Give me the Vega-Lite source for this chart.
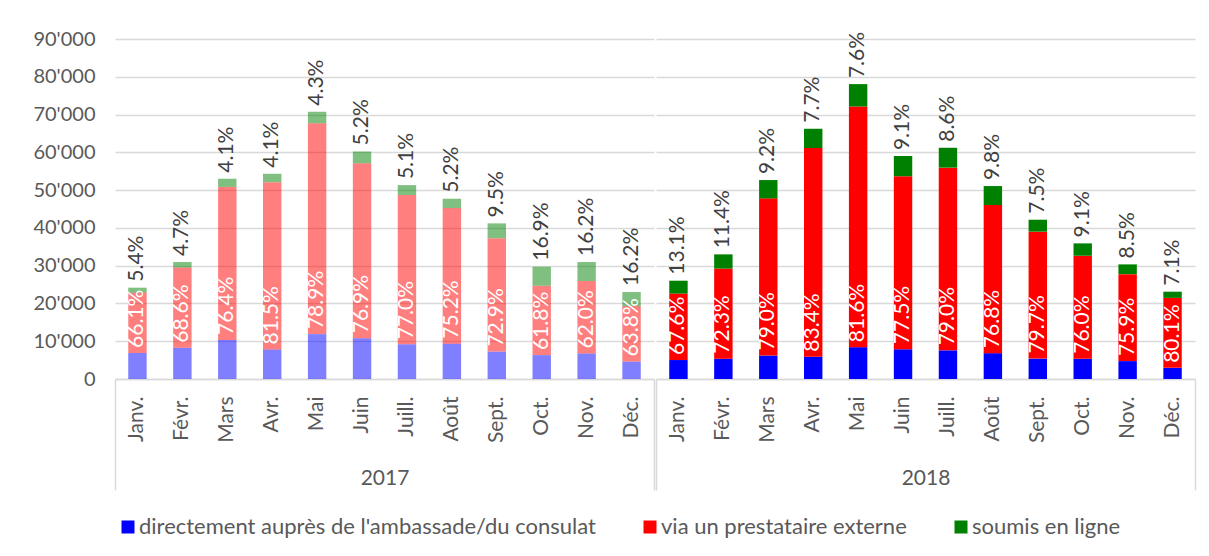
{
  "$schema": "https://vega.github.io/schema/vega-lite/v6.json",
  "padding": {"left": 32, "top": 29, "right": 10, "bottom": 5},
  "config": {
    "font": "Lato",
    "view": {"stroke": null},
    "axis": {"labelFont": "Lato", "titleFont": "Lato", "labelColor": "#595959", "titleColor": "#595959", "labelFontSize": 20, "titleFontSize": 20, "titleFontWeight": "normal", "gridColor": "#d9d9d9", "gridWidth": 1.5, "domainColor": "#d9d9d9", "domainWidth": 1.5, "tickColor": "#d9d9d9"},
    "text": {"font": "Lato"}
  },
  "data": {"values": [
    {"annee": 2017, "mois": "Janv.", "serie": "directement auprès de l'ambassade/du consulat", "ordre": 1, "valeur": 6889},
    {"annee": 2017, "mois": "Janv.", "serie": "via un prestataire externe", "ordre": 2, "valeur": 15976, "pct": 0.661},
    {"annee": 2017, "mois": "Janv.", "serie": "soumis en ligne", "ordre": 3, "valeur": 1305, "pct": 0.054},
    {"annee": 2017, "mois": "Févr.", "serie": "directement auprès de l'ambassade/du consulat", "ordre": 1, "valeur": 8266},
    {"annee": 2017, "mois": "Févr.", "serie": "via un prestataire externe", "ordre": 2, "valeur": 21239, "pct": 0.686},
    {"annee": 2017, "mois": "Févr.", "serie": "soumis en ligne", "ordre": 3, "valeur": 1455, "pct": 0.047},
    {"annee": 2017, "mois": "Mars", "serie": "directement auprès de l'ambassade/du consulat", "ordre": 1, "valeur": 10337},
    {"annee": 2017, "mois": "Mars", "serie": "via un prestataire externe", "ordre": 2, "valeur": 40500, "pct": 0.764},
    {"annee": 2017, "mois": "Mars", "serie": "soumis en ligne", "ordre": 3, "valeur": 2173, "pct": 0.041},
    {"annee": 2017, "mois": "Avr.", "serie": "directement auprès de l'ambassade/du consulat", "ordre": 1, "valeur": 7823},
    {"annee": 2017, "mois": "Avr.", "serie": "via un prestataire externe", "ordre": 2, "valeur": 44279, "pct": 0.815},
    {"annee": 2017, "mois": "Avr.", "serie": "soumis en ligne", "ordre": 3, "valeur": 2228, "pct": 0.041},
    {"annee": 2017, "mois": "Mai", "serie": "directement auprès de l'ambassade/du consulat", "ordre": 1, "valeur": 11884},
    {"annee": 2017, "mois": "Mai", "serie": "via un prestataire externe", "ordre": 2, "valeur": 55814, "pct": 0.789},
    {"annee": 2017, "mois": "Mai", "serie": "soumis en ligne", "ordre": 3, "valeur": 3042, "pct": 0.043},
    {"annee": 2017, "mois": "Juin", "serie": "directement auprès de l'ambassade/du consulat", "ordre": 1, "valeur": 10783},
    {"annee": 2017, "mois": "Juin", "serie": "via un prestataire externe", "ordre": 2, "valeur": 46325, "pct": 0.769},
    {"annee": 2017, "mois": "Juin", "serie": "soumis en ligne", "ordre": 3, "valeur": 3132, "pct": 0.052},
    {"annee": 2017, "mois": "Juill.", "serie": "directement auprès de l'ambassade/du consulat", "ordre": 1, "valeur": 9188},
    {"annee": 2017, "mois": "Juill.", "serie": "via un prestataire externe", "ordre": 2, "valeur": 39524, "pct": 0.770},
    {"annee": 2017, "mois": "Juill.", "serie": "soumis en ligne", "ordre": 3, "valeur": 2618, "pct": 0.051},
    {"annee": 2017, "mois": "Août", "serie": "directement auprès de l'ambassade/du consulat", "ordre": 1, "valeur": 9354},
    {"annee": 2017, "mois": "Août", "serie": "via un prestataire externe", "ordre": 2, "valeur": 35885, "pct": 0.752},
    {"annee": 2017, "mois": "Août", "serie": "soumis en ligne", "ordre": 3, "valeur": 2481, "pct": 0.052},
    {"annee": 2017, "mois": "Sept.", "serie": "directement auprès de l'ambassade/du consulat", "ordre": 1, "valeur": 7249},
    {"annee": 2017, "mois": "Sept.", "serie": "via un prestataire externe", "ordre": 2, "valeur": 30028, "pct": 0.729},
    {"annee": 2017, "mois": "Sept.", "serie": "soumis en ligne", "ordre": 3, "valeur": 3913, "pct": 0.095},
    {"annee": 2017, "mois": "Oct.", "serie": "directement auprès de l'ambassade/du consulat", "ordre": 1, "valeur": 6330},
    {"annee": 2017, "mois": "Oct.", "serie": "via un prestataire externe", "ordre": 2, "valeur": 18367, "pct": 0.618},
    {"annee": 2017, "mois": "Oct.", "serie": "soumis en ligne", "ordre": 3, "valeur": 5023, "pct": 0.169},
    {"annee": 2017, "mois": "Nov.", "serie": "directement auprès de l'ambassade/du consulat", "ordre": 1, "valeur": 6749},
    {"annee": 2017, "mois": "Nov.", "serie": "via un prestataire externe", "ordre": 2, "valeur": 19195, "pct": 0.620},
    {"annee": 2017, "mois": "Nov.", "serie": "soumis en ligne", "ordre": 3, "valeur": 5016, "pct": 0.162},
    {"annee": 2017, "mois": "Déc.", "serie": "directement auprès de l'ambassade/du consulat", "ordre": 1, "valeur": 4604},
    {"annee": 2017, "mois": "Déc.", "serie": "via un prestataire externe", "ordre": 2, "valeur": 14687, "pct": 0.638},
    {"annee": 2017, "mois": "Déc.", "serie": "soumis en ligne", "ordre": 3, "valeur": 3729, "pct": 0.162},
    {"annee": 2018, "mois": "Janv.", "serie": "directement auprès de l'ambassade/du consulat", "ordre": 1, "valeur": 5021},
    {"annee": 2018, "mois": "Janv.", "serie": "via un prestataire externe", "ordre": 2, "valeur": 17590, "pct": 0.676},
    {"annee": 2018, "mois": "Janv.", "serie": "soumis en ligne", "ordre": 3, "valeur": 3409, "pct": 0.131},
    {"annee": 2018, "mois": "Févr.", "serie": "directement auprès de l'ambassade/du consulat", "ordre": 1, "valeur": 5377},
    {"annee": 2018, "mois": "Févr.", "serie": "via un prestataire externe", "ordre": 2, "valeur": 23852, "pct": 0.723},
    {"annee": 2018, "mois": "Févr.", "serie": "soumis en ligne", "ordre": 3, "valeur": 3761, "pct": 0.114},
    {"annee": 2018, "mois": "Mars", "serie": "directement auprès de l'ambassade/du consulat", "ordre": 1, "valeur": 6214},
    {"annee": 2018, "mois": "Mars", "serie": "via un prestataire externe", "ordre": 2, "valeur": 41601, "pct": 0.790},
    {"annee": 2018, "mois": "Mars", "serie": "soumis en ligne", "ordre": 3, "valeur": 4845, "pct": 0.092},
    {"annee": 2018, "mois": "Avr.", "serie": "directement auprès de l'ambassade/du consulat", "ordre": 1, "valeur": 5896},
    {"annee": 2018, "mois": "Avr.", "serie": "via un prestataire externe", "ordre": 2, "valeur": 55244, "pct": 0.834},
    {"annee": 2018, "mois": "Avr.", "serie": "soumis en ligne", "ordre": 3, "valeur": 5100, "pct": 0.077},
    {"annee": 2018, "mois": "Mai", "serie": "directement auprès de l'ambassade/du consulat", "ordre": 1, "valeur": 8430},
    {"annee": 2018, "mois": "Mai", "serie": "via un prestataire externe", "ordre": 2, "valeur": 63697, "pct": 0.816},
    {"annee": 2018, "mois": "Mai", "serie": "soumis en ligne", "ordre": 3, "valeur": 5933, "pct": 0.076},
    {"annee": 2018, "mois": "Juin", "serie": "directement auprès de l'ambassade/du consulat", "ordre": 1, "valeur": 7907},
    {"annee": 2018, "mois": "Juin", "serie": "via un prestataire externe", "ordre": 2, "valeur": 45733, "pct": 0.775},
    {"annee": 2018, "mois": "Juin", "serie": "soumis en ligne", "ordre": 3, "valeur": 5370, "pct": 0.091},
    {"annee": 2018, "mois": "Juill.", "serie": "directement auprès de l'ambassade/du consulat", "ordre": 1, "valeur": 7590},
    {"annee": 2018, "mois": "Juill.", "serie": "via un prestataire externe", "ordre": 2, "valeur": 48356, "pct": 0.790},
    {"annee": 2018, "mois": "Juill.", "serie": "soumis en ligne", "ordre": 3, "valeur": 5264, "pct": 0.086},
    {"annee": 2018, "mois": "Août", "serie": "directement auprès de l'ambassade/du consulat", "ordre": 1, "valeur": 6843},
    {"annee": 2018, "mois": "Août", "serie": "via un prestataire externe", "ordre": 2, "valeur": 39222, "pct": 0.768},
    {"annee": 2018, "mois": "Août", "serie": "soumis en ligne", "ordre": 3, "valeur": 5005, "pct": 0.098},
    {"annee": 2018, "mois": "Sept.", "serie": "directement auprès de l'ambassade/du consulat", "ordre": 1, "valeur": 5396},
    {"annee": 2018, "mois": "Sept.", "serie": "via un prestataire externe", "ordre": 2, "valeur": 33602, "pct": 0.797},
    {"annee": 2018, "mois": "Sept.", "serie": "soumis en ligne", "ordre": 3, "valeur": 3162, "pct": 0.075},
    {"annee": 2018, "mois": "Oct.", "serie": "directement auprès de l'ambassade/du consulat", "ordre": 1, "valeur": 5349},
    {"annee": 2018, "mois": "Oct.", "serie": "via un prestataire externe", "ordre": 2, "valeur": 27284, "pct": 0.760},
    {"annee": 2018, "mois": "Oct.", "serie": "soumis en ligne", "ordre": 3, "valeur": 3267, "pct": 0.091},
    {"annee": 2018, "mois": "Nov.", "serie": "directement auprès de l'ambassade/du consulat", "ordre": 1, "valeur": 4733},
    {"annee": 2018, "mois": "Nov.", "serie": "via un prestataire externe", "ordre": 2, "valeur": 23028, "pct": 0.759},
    {"annee": 2018, "mois": "Nov.", "serie": "soumis en ligne", "ordre": 3, "valeur": 2579, "pct": 0.085},
    {"annee": 2018, "mois": "Déc.", "serie": "directement auprès de l'ambassade/du consulat", "ordre": 1, "valeur": 2958},
    {"annee": 2018, "mois": "Déc.", "serie": "via un prestataire externe", "ordre": 2, "valeur": 18511, "pct": 0.801},
    {"annee": 2018, "mois": "Déc.", "serie": "soumis en ligne", "ordre": 3, "valeur": 1641, "pct": 0.071}
  ]},
  "spacing": 0,
  "resolve": {"scale": {"color": "shared", "y": "independent"}},
  "hconcat": [
    {
      "width": 539,
      "height": 340,
      "transform": [
        {"filter": "datum.annee === 2017"},
        {"stack": "valeur", "groupby": ["mois"], "sort": [{"field": "ordre", "order": "ascending"}], "as": ["v0", "v1"]}
      ],
      "resolve": {"axis": {"x": "independent"}},
      "layer": [
        {
          "mark": {"type": "bar", "width": {"band": 0.41}, "fillOpacity": 0.5},
          "encoding": {
            "x": {"field": "mois", "type": "nominal", "sort": ["Janv.", "Févr.", "Mars", "Avr.", "Mai", "Juin", "Juill.", "Août", "Sept.", "Oct.", "Nov.", "Déc."], "scale": {"paddingInner": 0, "paddingOuter": 0},
              "axis": {"orient": "bottom", "labelAngle": -90, "labelPadding": 17, "labelFontSize": 21, "ticks": false, "domain": true, "grid": false, "title": "2017", "titlePadding": 25, "titleFontSize": 21}},
            "y": {"field": "v0", "type": "quantitative", "scale": {"domain": [0, 90000], "nice": false},
              "axis": {"values": [0, 10000, 20000, 30000, 40000, 50000, 60000, 70000, 80000, 90000], "labelOverlap": false, "grid": true, "domain": false, "ticks": false, "labelPadding": 20, "title": null, "labelExpr": "replace(format(datum.value, ','), ',', \"'\")"}},
            "y2": {"field": "v1"},
            "color": {"field": "serie", "type": "nominal",
              "scale": {"domain": ["directement auprès de l'ambassade/du consulat", "via un prestataire externe", "soumis en ligne"], "range": ["#0000ff", "#ff0000", "#008000"]},
              "legend": {"orient": "none", "legendX": 2, "legendY": 477, "direction": "horizontal", "title": null, "symbolType": "square", "symbolSize": 169, "symbolStrokeWidth": 0, "labelFontSize": 22, "labelColor": "#595959", "labelFont": "Lato", "labelLimit": 700, "columnPadding": 43, "labelOffset": 0,
                "encode": {"symbols": {"update": {"fill": {"signal": "datum.value === 'soumis en ligne' ? '#008000' : datum.value === 'via un prestataire externe' ? '#ff8080' : '#8080ff'"}}}}}}
          }
        },
        {
          "transform": [{"filter": "datum.serie === 'via un prestataire externe'"}],
          "mark": {"type": "text", "angle": -90, "align": "left", "baseline": "middle", "dx": 5, "color": "#ffffff", "fontSize": 21},
          "encoding": {
            "x": {"field": "mois", "type": "nominal", "sort": ["Janv.", "Févr.", "Mars", "Avr.", "Mai", "Juin", "Juill.", "Août", "Sept.", "Oct.", "Nov.", "Déc."],
              "axis": {"orient": "bottom", "tickBand": "extent", "labels": false, "domain": false, "grid": false, "title": null, "ticks": true, "tickSize": 111, "tickWidth": 1.5, "tickColor": "#d9d9d9",
                "tickOpacity": {"condition": {"test": "datum.value === 'Déc.' || !isValid(datum.value) || datum.index < 0", "value": 1}, "value": 0}}},
            "y": {"field": "v0", "type": "quantitative", "scale": {"domain": [0, 90000], "nice": false},
              "axis": {"values": [0, 10000, 20000, 30000, 40000, 50000, 60000, 70000, 80000, 90000], "labelOverlap": false, "grid": true, "domain": false, "ticks": false, "labelPadding": 20, "title": null, "labelExpr": "replace(format(datum.value, ','), ',', \"'\")"}},
            "text": {"field": "pct", "type": "quantitative", "format": ".1%"}
          }
        },
        {
          "transform": [{"filter": "datum.serie === 'soumis en ligne'"}],
          "mark": {"type": "text", "angle": -90, "align": "left", "baseline": "middle", "dx": 6, "color": "#404040", "fontSize": 21},
          "encoding": {
            "x": {"field": "mois", "type": "nominal", "sort": ["Janv.", "Févr.", "Mars", "Avr.", "Mai", "Juin", "Juill.", "Août", "Sept.", "Oct.", "Nov.", "Déc."], "axis": null},
            "y": {"field": "v1", "type": "quantitative", "scale": {"domain": [0, 90000], "nice": false},
              "axis": {"values": [0, 10000, 20000, 30000, 40000, 50000, 60000, 70000, 80000, 90000], "labelOverlap": false, "grid": true, "domain": false, "ticks": false, "labelPadding": 20, "title": null, "labelExpr": "replace(format(datum.value, ','), ',', \"'\")"}},
            "text": {"field": "pct", "type": "quantitative", "format": ".1%"}
          }
        }
      ]
    },
    {
      "width": 539,
      "height": 340,
      "transform": [
        {"filter": "datum.annee === 2018"},
        {"stack": "valeur", "groupby": ["mois"], "sort": [{"field": "ordre", "order": "ascending"}], "as": ["v0", "v1"]}
      ],
      "resolve": {"axis": {"x": "independent"}},
      "layer": [
        {
          "mark": {"type": "bar", "width": {"band": 0.41}},
          "encoding": {
            "x": {"field": "mois", "type": "nominal", "sort": ["Janv.", "Févr.", "Mars", "Avr.", "Mai", "Juin", "Juill.", "Août", "Sept.", "Oct.", "Nov.", "Déc."], "scale": {"paddingInner": 0, "paddingOuter": 0},
              "axis": {"orient": "bottom", "labelAngle": -90, "labelPadding": 17, "labelFontSize": 21, "ticks": false, "domain": true, "grid": false, "title": "2018", "titlePadding": 25, "titleFontSize": 21}},
            "y": {"field": "v0", "type": "quantitative", "scale": {"domain": [0, 90000], "nice": false},
              "axis": {"values": [0, 10000, 20000, 30000, 40000, 50000, 60000, 70000, 80000, 90000], "grid": true, "domain": false, "ticks": false, "labels": false, "title": null}},
            "y2": {"field": "v1"},
            "color": {"field": "serie", "type": "nominal",
              "scale": {"domain": ["directement auprès de l'ambassade/du consulat", "via un prestataire externe", "soumis en ligne"], "range": ["#0000ff", "#ff0000", "#008000"]}}
          }
        },
        {
          "transform": [{"filter": "datum.serie === 'via un prestataire externe'"}],
          "mark": {"type": "text", "angle": -90, "align": "left", "baseline": "middle", "dx": 5, "color": "#ffffff", "fontSize": 21},
          "encoding": {
            "x": {"field": "mois", "type": "nominal", "sort": ["Janv.", "Févr.", "Mars", "Avr.", "Mai", "Juin", "Juill.", "Août", "Sept.", "Oct.", "Nov.", "Déc."],
              "axis": {"orient": "bottom", "tickBand": "extent", "labels": false, "domain": false, "grid": false, "title": null, "ticks": true, "tickSize": 111, "tickWidth": 1.5, "tickColor": "#d9d9d9",
                "tickOpacity": {"condition": {"test": "datum.value === 'Déc.' || !isValid(datum.value) || datum.index < 0", "value": 1}, "value": 0}}},
            "y": {"field": "v0", "type": "quantitative", "scale": {"domain": [0, 90000], "nice": false},
              "axis": {"values": [0, 10000, 20000, 30000, 40000, 50000, 60000, 70000, 80000, 90000], "grid": true, "domain": false, "ticks": false, "labels": false, "title": null}},
            "text": {"field": "pct", "type": "quantitative", "format": ".1%"}
          }
        },
        {
          "transform": [{"filter": "datum.serie === 'soumis en ligne'"}],
          "mark": {"type": "text", "angle": -90, "align": "left", "baseline": "middle", "dx": 6, "color": "#404040", "fontSize": 21},
          "encoding": {
            "x": {"field": "mois", "type": "nominal", "sort": ["Janv.", "Févr.", "Mars", "Avr.", "Mai", "Juin", "Juill.", "Août", "Sept.", "Oct.", "Nov.", "Déc."], "axis": null},
            "y": {"field": "v1", "type": "quantitative", "scale": {"domain": [0, 90000], "nice": false},
              "axis": {"values": [0, 10000, 20000, 30000, 40000, 50000, 60000, 70000, 80000, 90000], "grid": true, "domain": false, "ticks": false, "labels": false, "title": null}},
            "text": {"field": "pct", "type": "quantitative", "format": ".1%"}
          }
        }
      ]
    }
  ]
}
